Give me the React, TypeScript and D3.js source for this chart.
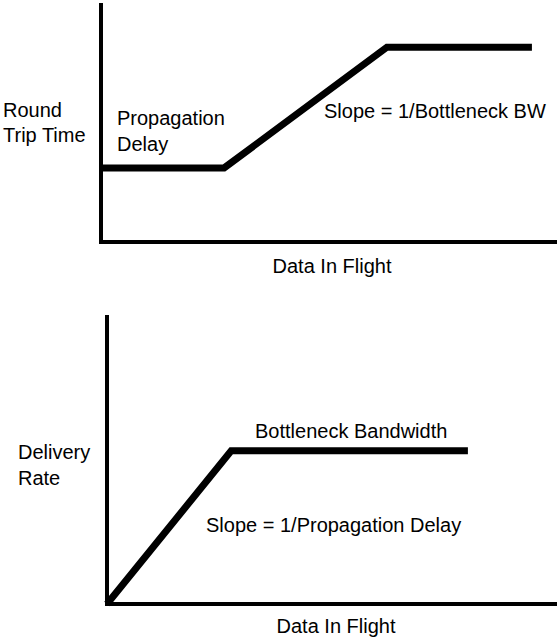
import * as d3 from "d3";

const rttPoints: [number, number][] = [[0, 3.1], [27, 3.1], [62.7, 8.15], [94.5, 8.15]];
const ratePoints: [number, number][] = [[0, 0], [27.6, 5.3], [80.2, 5.3]];

const W = 560, H = 638;
const font = "'Liberation Sans', Arial, sans-serif";

function Panel({ pts, x0, x1, yTop, yBot }: { pts: [number, number][]; x0: number; x1: number; yTop: number; yBot: number }) {
  const x = d3.scaleLinear().domain([0, 100]).range([x0, x1]);
  const y = d3.scaleLinear().domain([0, 10]).range([yBot, yTop]);
  const line = d3.line<[number, number]>().x(d => x(d[0])).y(d => y(d[1]));
  return (
    <g>
      <path d={`M${x0},${yTop}V${yBot}H${x1}`} fill="none" stroke="#000" strokeWidth={4} />
      <path d={line(pts) || ""} fill="none" stroke="#000" strokeWidth={7} strokeLinejoin="miter" />
    </g>
  );
}

export default function App() {
  return (
    <svg width={W} height={H} style={{ position: "absolute", left: 0, top: 0, background: "#fff" }} fontFamily={font} fontSize={20}>
      <Panel pts={rttPoints} x0={101} x1={557} yTop={3} yBot={242} />
      <Panel pts={ratePoints} x0={107} x1={557} yTop={315} yBot={604} />
      <text x={3} y={117}>Round</text>
      <text x={3} y={142}>Trip Time</text>
      <text x={117} y={125}>Propagation</text>
      <text x={117} y={151}>Delay</text>
      <text x={324} y={118}>Slope = 1/Bottleneck BW</text>
      <text x={332} y={273} textAnchor="middle">Data In Flight</text>
      <text x={255} y={438}>Bottleneck Bandwidth</text>
      <text x={18} y={459}>Delivery</text>
      <text x={18} y={485}>Rate</text>
      <text x={206} y={532}>Slope = 1/Propagation Delay</text>
      <text x={336} y={633} textAnchor="middle">Data In Flight</text>
    </svg>
  );
}
